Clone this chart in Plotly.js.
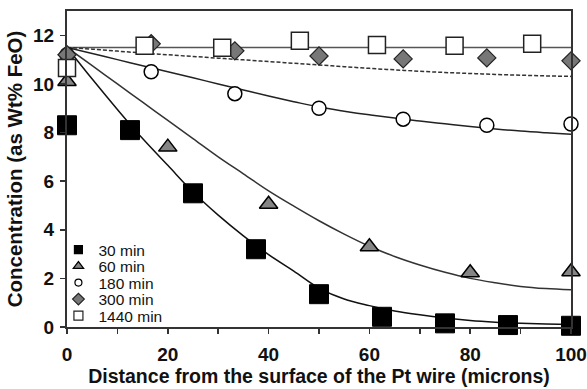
<!DOCTYPE html>
<html>
<head>
<meta charset="utf-8">
<script src="https://cdn.plot.ly/plotly-3.0.1.min.js"></script>
<style>html,body{margin:0;padding:0;background:#fff;}#chart{width:587px;height:389px;}</style>
</head>
<body>
<div id="chart"></div>
<script>
// ---- measured points ----
const x30 = [0, 12.5, 25, 37.5, 50, 62.5, 75, 87.5, 100];
const y30 = [8.3, 8.1, 5.5, 3.2, 1.35, 0.42, 0.15, 0.08, 0.05];
const x60 = [0, 20, 40, 60, 80, 100];
const y60 = [10.1, 7.4, 5.05, 3.3, 2.23, 2.27];
const x180 = [0, 16.7, 33.3, 50, 66.7, 83.3, 100];
const y180 = [11.2, 10.5, 9.6, 9.0, 8.55, 8.3, 8.35];
const x300 = [0, 16.7, 33.3, 50, 66.7, 83.3, 100];
const y300 = [11.2, 11.65, 11.36, 11.15, 11.03, 11.07, 10.95];
const x1440 = [0, 15.4, 30.8, 46.2, 61.5, 76.9, 92.3];
const y1440 = [10.65, 11.57, 11.49, 11.78, 11.6, 11.57, 11.65];

// ---- fitted model curves ----
const xFit = [0, 5, 10, 15, 20, 25, 30, 35, 40, 45, 50, 55, 60, 65, 70, 75, 80, 85, 90, 95, 100];
const fit30 = [11.5, 10.2, 8.95, 7.75, 6.65, 5.55, 4.6, 3.75, 2.98, 2.3, 1.6, 1.15, 0.88, 0.66, 0.5, 0.37, 0.27, 0.2, 0.15, 0.12, 0.1];
const fit60 = [11.5, 10.75, 10.0, 9.25, 8.5, 7.75, 7.0, 6.3, 5.6, 4.97, 4.37, 3.82, 3.32, 2.9, 2.55, 2.25, 2.0, 1.82, 1.67, 1.58, 1.53];
const fit180 = [11.5, 11.25, 11.0, 10.75, 10.5, 10.25, 10.0, 9.75, 9.5, 9.27, 9.05, 8.88, 8.73, 8.6, 8.47, 8.36, 8.25, 8.15, 8.06, 7.99, 7.93];
const fit300 = [11.5, 11.43, 11.35, 11.27, 11.2, 11.13, 11.06, 10.99, 10.92, 10.85, 10.78, 10.71, 10.64, 10.58, 10.52, 10.47, 10.43, 10.39, 10.36, 10.33, 10.31];
const fit1440 = [11.5, 11.5, 11.5, 11.5, 11.5, 11.5, 11.5, 11.5, 11.5, 11.5, 11.5, 11.5, 11.5, 11.5, 11.5, 11.5, 11.5, 11.5, 11.5, 11.5, 11.5];

const seriesNames = ['30 min', '60 min', '180 min', '300 min', '1440 min'];
const xTickVals = [0, 20, 40, 60, 80, 100];
const yTickVals = [0, 2, 4, 6, 8, 10, 12];

const FONT = 'Liberation Sans, Arial, Helvetica, sans-serif';

function fitLine(y, color, dash) {
  return {x: xFit, y: y, mode: 'lines', type: 'scatter', showlegend: false, hoverinfo: 'skip',
    line: {color: color, width: 1.5, dash: dash || 'solid', shape: 'spline'}};
}

const styles = [
  {symbol: 'square', size: 19, color: '#000000', lc: '#000000', lw: 1, ls: 8},
  {symbol: 'triangle-up', size: 16, color: '#858585', lc: '#000000', lw: 1.5, ls: 9},
  {symbol: 'circle', size: 14, color: '#ffffff', lc: '#000000', lw: 1.5, ls: 7},
  {symbol: 'diamond', size: 14, color: '#777777', lc: '#222222', lw: 1.2, ls: 9},
  {symbol: 'square', size: 17, color: '#ffffff', lc: '#222222', lw: 1.5, ls: 9}
];
const xs = [x30, x60, x180, x300, x1440];
const ys = [y30, y60, y180, y300, y1440];

const traces = [
  fitLine(fit1440, '#555555'),
  fitLine(fit300, '#333333', '4px,2px'),
  fitLine(fit180, '#222222'),
  fitLine(fit60, '#333333'),
  fitLine(fit30, '#111111')
];
for (let i = 0; i < 5; i++) {
  const s = styles[i];
  traces.push({x: xs[i], y: ys[i], type: 'scatter', mode: 'markers', name: seriesNames[i], showlegend: false,
    cliponaxis: false,
    marker: {symbol: s.symbol, size: s.size, color: s.color, line: {color: s.lc, width: s.lw}}});
}
// legend entries (small symbols as in the reference), one legend per row for tight spacing
const legendIds = ['legend', 'legend2', 'legend3', 'legend4', 'legend5'];
for (let i = 0; i < 5; i++) {
  const s = styles[i];
  traces.push({x: [null], y: [null], type: 'scatter', mode: 'markers', name: seriesNames[i], showlegend: true,
    legend: legendIds[i],
    marker: {symbol: s.symbol, size: s.ls, color: s.color, line: {color: s.lc, width: 1.2}}});
}

const axisCommon = {
  showgrid: false, zeroline: false, showline: true, linecolor: '#333333', linewidth: 2, mirror: true,
  ticks: 'outside', ticklen: 5, tickwidth: 1.5, tickcolor: '#333333',
  tickfont: {family: FONT, size: 19, color: '#111111', weight: 'bold'}
};

const layout = {
  width: 587, height: 389,
  margin: {l: 67, r: 16, t: 11, b: 62},
  paper_bgcolor: '#ffffff', plot_bgcolor: '#ffffff',
  font: {family: FONT, color: '#111111'},
  showlegend: true,
  xaxis: Object.assign({}, axisCommon, {
    range: [0, 100], tickmode: 'array', tickvals: xTickVals, ticktext: xTickVals.map(String),
    ticklabelstandoff: 4,
    minor: {dtick: 10, ticks: 'outside', ticklen: 5, tickwidth: 1.5, tickcolor: '#333333', showgrid: false},
    title: {text: 'Distance from the surface of the Pt wire (microns)', standoff: 3,
      font: {family: FONT, size: 19.5, color: '#111111', weight: 'bold'}}
  }),
  yaxis: Object.assign({}, axisCommon, {
    range: [0, 13], tickmode: 'array', tickvals: yTickVals, ticktext: yTickVals.map(String),
    ticklabelstandoff: 2,
    title: {text: 'Concentration (as Wt% FeO)', standoff: 5,
      font: {family: FONT, size: 20.5, color: '#111111', weight: 'bold'}}
  })
};
const rowY = [0.2437, 0.1915, 0.1392, 0.0870, 0.0348];
for (let i = 0; i < 5; i++) {
  layout[legendIds[i]] = {x: -0.017, xanchor: 'left', y: rowY[i], yanchor: 'middle',
    bgcolor: 'rgba(0,0,0,0)', borderwidth: 0,
    font: {family: FONT, size: 15.5, color: '#111111'}};
}

Plotly.newPlot('chart', traces, layout, {displayModeBar: false, staticPlot: true});
</script>
</body>
</html>
